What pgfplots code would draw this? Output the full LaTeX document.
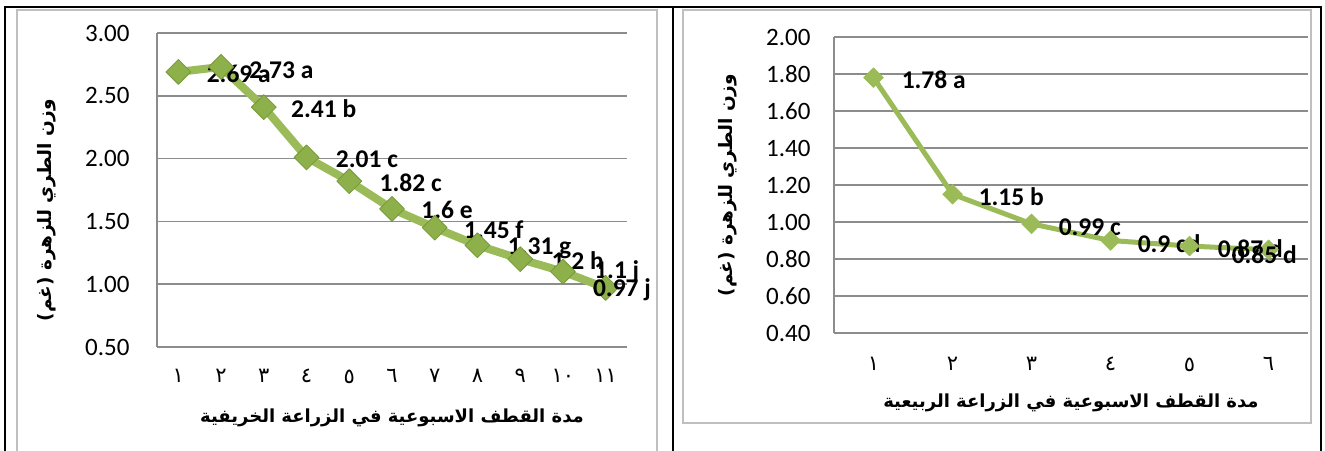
\documentclass[border=0pt]{standalone}
\usepackage{fontspec}
\setmainfont{Carlito}
\newfontfamily\arabicfont[Script=Arabic]{DejaVu Sans}
\TeXXeTstate=1
\usepackage{pgfplots}
\usepackage{pgfplotstable}
\pgfplotsset{compat=1.18}
\definecolor{lgreen}{HTML}{9BBB59}
\definecolor{mgreen}{HTML}{8DB04A}
\definecolor{dgreen}{HTML}{76993A}
\definecolor{gridgray}{HTML}{8C8C8C}
\definecolor{framegray}{HTML}{BFBFBF}

\pgfplotstableread[col sep=comma,row sep=\\]{
x,y,lab,dx,dy\\
1,2.69,2.69 a,28,-2\\
2,2.73,2.73 a,28,-3\\
3,2.41,2.41 b,27,-2\\
4,2.01,2.01 c,29,-2\\
5,1.82,1.82 c,30,-2\\
6,1.6,1.6 e,29,-1\\
7,1.45,1.45 f,29,-2\\
8,1.31,1.31 g,30,-3\\
9,1.2,1.2 h,31,-2\\
10,1.1,1.1 j,31,0\\
11,0.97,0.97 j,-13,-2\\
}\autumn

\pgfplotstableread[col sep=comma,row sep=\\]{
x,y,lab,dx,dy\\
1,1.78,1.78 a,28,-2\\
2,1.15,1.15 b,26,-2\\
3,0.99,0.99 c,27,-3\\
4,0.9,0.9 cd,27,-3\\
5,0.87,0.87 d,28,-3\\
6,0.85,0.85 d,-37,-5\\
}\spring

\pgfplotsset{mychart/.style={
  scale only axis, anchor=south west,
  axis x line*=bottom, axis y line*=left,
  axis line style={draw=gridgray, line width=1.5pt, -},
  major tick length=0pt,
  ymajorgrids, grid style={draw=gridgray, line width=1.5pt},
  tick label style={font=\fontsize{25}{27}\selectfont},
  /pgf/number format/assume math mode=true,
  yticklabel style={/pgf/number format/fixed, /pgf/number format/fixed zerofill, /pgf/number format/precision=2},
  xticklabel style={font=\arabicfont\fontsize{21}{23}\selectfont},
  clip=false,
  every axis y label/.style={rotate=90, anchor=center, font=\arabicfont\bfseries\fontsize{18.5}{20}\selectfont},
  every axis x label/.style={anchor=center, font=\arabicfont\bfseries\fontsize{18}{20}\selectfont},
},
myplot/.style={
  color=lgreen, line join=round,
  mark=square*,
  nodes near coords, point meta=explicit symbolic,
  visualization depends on={\thisrow{dx} \as \dx},
  visualization depends on={\thisrow{dy} \as \dy},
  nodes near coords style={anchor=west, xshift=\dx pt, yshift=\dy pt,
    font=\bfseries\fontsize{25.5}{27}\selectfont, inner sep=0pt, text=black},
}}

\begin{document}
\begin{tikzpicture}
\useasboundingbox (0,0) rectangle (1325pt,450pt);
\fill[white] (0,0) rectangle (1325pt,450pt);
% chart areas
\draw[framegray, line width=1.5pt] (17pt,-5pt) -- (17pt,440pt) -- (657pt,440pt) -- (657pt,-5pt);
\draw[framegray, line width=1.5pt] (683pt,27pt) rectangle (1311pt,440pt);
% table frame
\draw[black, line width=2.2pt] (5pt,-2pt) -- (5pt,443pt) -- (1321pt,443pt) -- (1321pt,-2pt);
\draw[black, line width=2.2pt] (673pt,-2pt) -- (673pt,443pt);

\begin{axis}[mychart, at={(157pt,103pt)}, width=470pt, height=314pt,
  xmin=0.5, xmax=11.5, ymin=0.5, ymax=3,
  xtick={1,2,3,4,5,6,7,8,9,10,11},
  xticklabels={١,٢,٣,٤,٥,٦,٧,٨,٩,١٠,١١},
  ytick={0.5,1,1.5,2,2.5,3},
  yticklabel style={xshift=-24pt},
  xticklabel style={yshift=-19pt},
  xlabel={\beginR مدة القطف الاسبوعية في الزراعة الخريفية\endR},
  ylabel={\beginR وزن الطري للزهرة (غم)\endR},
  xlabel style={at={(axis description cs:0.5,-0.226)}},
  ylabel style={at={(axis description cs:-0.234,0.436)}},
]
\addplot[myplot, line width=8pt, mark size=8.8pt,
  mark options={rotate=45, fill=mgreen, draw=dgreen, line width=0.8pt}]
  table[x=x, y=y, meta=lab] {\autumn};
\end{axis}

\begin{axis}[mychart, at={(834pt,117pt)}, width=474pt, height=296pt,
  xmin=0.5, xmax=6.5, ymin=0.4, ymax=2,
  xtick={1,2,3,4,5,6},
  xticklabels={١,٢,٣,٤,٥,٦},
  ytick={0.4,0.6,0.8,1,1.2,1.4,1.6,1.8,2},
  yticklabel style={xshift=-20pt},
  xticklabel style={yshift=-21pt},
  xlabel={\beginR مدة القطف الاسبوعية في الزراعة الربيعية\endR},
  ylabel={\beginR وزن الطري للزهرة (غم)\endR},
  xlabel style={at={(axis description cs:0.5,-0.236)}},
  ylabel style={at={(axis description cs:-0.2236,0.5)}},
]
\addplot[myplot, line width=5pt, mark size=7pt,
  mark options={rotate=45, fill=lgreen, draw=lgreen, line width=0.5pt}]
  table[x=x, y=y, meta=lab] {\spring};
\end{axis}
\end{tikzpicture}
\end{document}
